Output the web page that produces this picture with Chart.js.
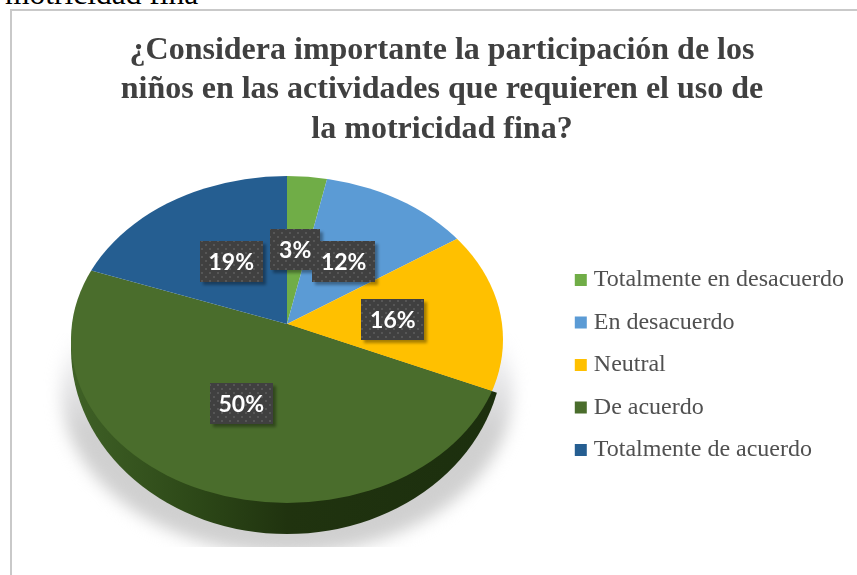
<!DOCTYPE html>
<html><head><meta charset="utf-8">
<script src="https://cdn.jsdelivr.net/npm/chart.js@4/dist/chart.umd.min.js"></script>
<style>
html,body{margin:0;padding:0;width:857px;height:575px;overflow:hidden;background:#fff}
#cut{position:absolute;left:5px;top:-24px;font:31.5px "Liberation Serif",serif;color:#000;white-space:nowrap}
#frame{position:absolute;left:10px;top:9px;width:860px;height:570px;border-left:2px solid #c9c9c9;border-top:2px solid #c9c9c9}
canvas{position:absolute;left:0;top:0}
</style></head><body>
<div id="cut">motricidad fina</div>
<div id="frame"><canvas id="c" width="860" height="570" style="width:860px;height:570px"></canvas></div>
<script>
const titleLines = ['¿Considera importante la participación de los','niños en las actividades que requieren el uso de','la motricidad fina?'];
const categories = ['Totalmente en desacuerdo','En desacuerdo','Neutral','De acuerdo','Totalmente de acuerdo'];
const values = [3,12,16,50,19];
const colors = ['#70AD47','#5B9BD5','#FFC000','#4A6D2C','#255E91'];
const wallStops = [[0,'#3f6126'],[.3,'#2c4717'],[.5,'#20330f'],[1,'#1c2f0e']];
const labelNudge = [[-3,7],[-7,7],[-12,6],[-2,-12],[11,5]];

const PIE = {cx:275, cy:313, rx:216, ryTop:149, ryBottom:179, faceCy:328.5, faceRy:163.5, wallCy:338, wallRy:185, grow:1.2};

const dots = document.createElement('canvas');
dots.width = dots.height = 8;
(function(){const d=dots.getContext('2d');d.fillStyle='#404040';d.fillRect(0,0,8,8);d.fillStyle='#565656';d.fillRect(1,1,2,2);d.fillRect(5,5,2,2);})();

const pie3d = {
  id:'pie3d',
  afterLayout(chart){
    const L = chart.legend;
    L.top += 69; L.bottom += 69; L.left -= 18; L.right -= 18;
  },
  beforeDatasetDraw(chart,args){
    const ctx = chart.ctx, arcs = args.meta.data, P = PIE;
    // soft shadow under the pie
    ctx.save();
    ctx.beginPath(); ctx.rect(0,322,860,214); ctx.clip();
    ctx.filter='blur(8px)';
    const g = ctx.createLinearGradient(0,322,0,420);
    g.addColorStop(0,'rgba(205,205,212,0)'); g.addColorStop(1,'rgba(208,208,208,1)');
    ctx.fillStyle=g;
    ctx.beginPath(); ctx.ellipse(P.cx,379,226,164,0,0,Math.PI*2); ctx.fill();
    ctx.restore();
    // side wall: only the slice that faces the viewer shows one
    arcs.forEach(el=>{
      if (!(el.startAngle < Math.PI/2 && el.endAngle > Math.PI/2)) return;
      const a1 = Math.min(el.endAngle,Math.PI), R = P.rx*P.grow;
      ctx.save();
      ctx.beginPath(); ctx.ellipse(P.cx,P.wallCy,P.rx,P.wallRy,0,0,Math.PI*2); ctx.clip();
      const s = ctx.createLinearGradient(P.cx-P.rx,0,P.cx+P.rx,0);
      wallStops.forEach(([o,c])=>s.addColorStop(o,c));
      ctx.fillStyle = s;
      ctx.beginPath();
      ctx.moveTo(P.cx,P.cy);
      ctx.ellipse(P.cx,P.cy,R,R*P.ryBottom/P.rx,0,el.startAngle,a1);
      ctx.closePath(); ctx.fill();
      ctx.restore();
    });
    // top face: oversized arcs from the apex, trimmed to the face outline
    ctx.save();
    ctx.beginPath(); ctx.ellipse(P.cx,P.faceCy,P.rx,P.faceRy,0,0,Math.PI*2); ctx.clip();
    [[0,P.cy,P.ryTop],[P.cy,570-P.cy,P.ryBottom]].forEach(([y,h,ry])=>{
      ctx.save();
      ctx.beginPath(); ctx.rect(0,y,860,h); ctx.clip();
      arcs.forEach(el=>{
        ctx.save();
        ctx.translate(P.cx,P.cy);
        ctx.scale(P.grow,P.grow*ry/P.rx);
        ctx.translate(-el.x,-el.y);
        el.draw(ctx);
        ctx.restore();
      });
      ctx.restore();
    });
    ctx.restore();
    return false;
  },
  afterDatasetsDraw(chart){
    const ctx = chart.ctx, P = PIE, arcs = chart.getDatasetMeta(0).data;
    const pat = ctx.createPattern(dots,'repeat');
    [4,0,1,2,3].forEach(i=>{
      const el = arcs[i], m = (el.startAngle+el.endAngle)/2;
      const sn = Math.sin(m), ry = sn<0?P.ryTop:P.ryBottom;
      const x = P.cx + Math.cos(m)*P.rx*.55 + labelNudge[i][0];
      const y = P.cy + sn*ry*.55 + labelNudge[i][1];
      const text = values[i]+'%';
      const w = i===0?50:63, h = 41;
      ctx.save();
      ctx.shadowColor='rgba(0,0,0,.35)'; ctx.shadowBlur=3; ctx.shadowOffsetX=3; ctx.shadowOffsetY=3;
      ctx.fillStyle=pat;
      ctx.fillRect(Math.round(x-w/2),Math.round(y-h/2),w,h);
      ctx.restore();
      ctx.save();
      ctx.fillStyle='#fff'; ctx.font='bold 23px Lato, "Open Sans", sans-serif';
      ctx.textAlign='center'; ctx.textBaseline='middle';
      ctx.fillText(text,x,y+1);
      ctx.restore();
    });
  }
};

new Chart(document.getElementById('c'),{
  type:'pie',
  data:{labels:categories,datasets:[{data:values,backgroundColor:colors,borderWidth:0}]},
  plugins:[pie3d],
  options:{
    responsive:false,animation:false,
    radius:PIE.rx,
    plugins:{
      tooltip:{enabled:false},
      title:{display:true,text:titleLines,color:'#404040',
        font:{family:'"Liberation Serif",serif',size:32,weight:'bold',lineHeight:1.234},
        padding:{top:20,bottom:10}},
      legend:{position:'right',align:'center',
        labels:{color:'#505050',boxWidth:2,boxHeight:2,padding:18.5,
          font:{family:'"Liberation Serif",serif',size:24},
          generateLabels(chart){
            return categories.map((t,i)=>({text:t,fillStyle:colors[i],strokeStyle:colors[i],lineWidth:10,index:i,hidden:false,fontColor:'#505050'}));
          }}}
    }
  }
});
</script>
</body></html>
